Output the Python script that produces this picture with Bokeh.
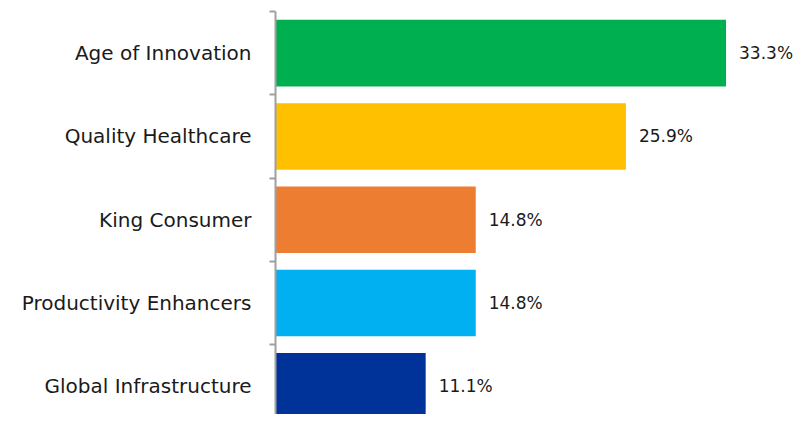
from bokeh.plotting import figure
from bokeh.models import ColumnDataSource, Range1d, FixedTicker
from bokeh.core.properties import value
from bokeh.embed import file_html
from bokeh.resources import INLINE

categories = ["Age of Innovation", "Quality Healthcare", "King Consumer",
              "Productivity Enhancers", "Global Infrastructure"]
shares = [33.3, 25.9, 14.8, 14.8, 11.1]
colors = ["#00B050", "#FFC000", "#ED7D31", "#00B0F0", "#003399"]
labels = [f"{v:.1f}%" for v in shares]
pos = list(range(len(categories)))

src = ColumnDataSource(dict(y=pos, share=shares, color=colors, label=labels))

p = figure(width=799, height=414, output_backend="svg", toolbar_location=None,
           x_range=Range1d(0, 38.73), y_range=Range1d(4.338, -0.5),
           x_axis_location=None,
           min_border_left=275, min_border_right=0, min_border_top=11,
           min_border_bottom=0)

p.hbar(y="y", right="share", left=0, height=0.8, fill_color="color",
       line_color=None, source=src)
p.text(x="share", y="y", text="label", x_offset=13, text_baseline="middle",
       text_align="left", text_font=value("DejaVu Sans"),
       text_font_size="17px", text_color="#1a1a1a", source=src)

p.xgrid.visible = False
p.ygrid.visible = False
p.outline_line_color = None
p.background_fill_color = "white"
p.border_fill_color = "white"

yaxis = p.yaxis[0]
yaxis.ticker = FixedTicker(ticks=pos, minor_ticks=[i - 0.5 for i in range(len(categories) + 1)])
yaxis.major_label_overrides = {i: c for i, c in zip(pos, categories)}
yaxis.axis_line_color = "#A0A0A0"
yaxis.axis_line_width = 2
yaxis.major_tick_line_color = None
yaxis.major_tick_out = 0
yaxis.major_tick_in = 0
yaxis.minor_tick_out = 6
yaxis.minor_tick_in = 0
yaxis.minor_tick_line_color = "#A0A0A0"
yaxis.minor_tick_line_width = 2
yaxis.major_label_standoff = 18
yaxis.major_label_text_font = "DejaVu Sans"
yaxis.major_label_text_font_size = "20px"
yaxis.major_label_text_color = "#1a1a1a"

open("out.html", "w").write(file_html(p, INLINE))
